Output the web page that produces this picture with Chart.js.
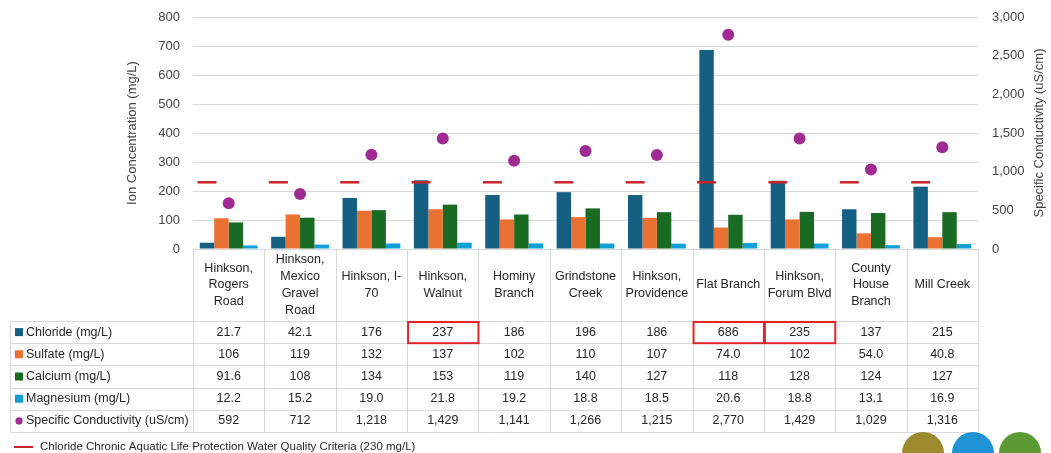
<!DOCTYPE html>
<html>
<head>
<meta charset="utf-8">
<title>Ion concentration by site</title>
<script src="https://cdn.jsdelivr.net/npm/chart.js@4.4.0/dist/chart.umd.min.js"></script>
<style>
  html, body { margin: 0; padding: 0; background: #fff; overflow: hidden; }
  #wrap { position: relative; width: 1051px; height: 453px; overflow: hidden; }
  .logo { position: absolute; top: 432px; width: 42px; height: 42px; border-radius: 50%; }
</style>
</head>
<body>
<div id="wrap">
  <canvas id="ionChart" width="1051" height="453"></canvas>
  <!-- logos bas de page -->
  <div class="logo" style="left:902px;background:#9c8a2e"></div>
  <div class="logo" style="left:952px;background:#1f93d3"></div>
  <div class="logo" style="left:999px;background:#5c9b34"></div>
</div>
<script>
// data
const sites = [
  ['Hinkson,', 'Rogers', 'Road'],
  ['Hinkson,', 'Mexico', 'Gravel', 'Road'],
  ['Hinkson, I-', '70'],
  ['Hinkson,', 'Walnut'],
  ['Hominy', 'Branch'],
  ['Grindstone', 'Creek'],
  ['Hinkson,', 'Providence'],
  ['Flat Branch'],
  ['Hinkson,', 'Forum Blvd'],
  ['County', 'House', 'Branch'],
  ['Mill Creek']
];
const chloride     = [21.7, 42.1, 176, 237, 186, 196, 186, 686, 235, 137, 215];
const sulfate      = [106, 119, 132, 137, 102, 110, 107, 74.0, 102, 54.0, 40.8];
const calcium      = [91.6, 108, 134, 153, 119, 140, 127, 118, 128, 124, 127];
const magnesium    = [12.2, 15.2, 19.0, 21.8, 19.2, 18.8, 18.5, 20.6, 18.8, 13.1, 16.9];
const conductivity = [592, 712, 1218, 1429, 1141, 1266, 1215, 2770, 1429, 1029, 1316];
const chlorideCriteria = [230, 230, 230, 230, 230, 230, 230, 230, 230, 230, 230];

const ionTicks = [0, 100, 200, 300, 400, 500, 600, 700, 800];
const condTicks = [0, 500, 1000, 1500, 2000, 2500, 3000];

const FONT = "'Liberation Sans', Arial, sans-serif";
const GRID = '#d9d9d9';
const TXT = '#454545';
const CELL_TXT = '#262626';
const RED = '#c8232c';

// lignes du tableau (nom, couleur, forme, valeurs)
const tableRows = [
  { name: 'Chloride (mg/L)', color: '#156082', shape: 'square', values: chloride },
  { name: 'Sulfate (mg/L)', color: '#e97132', shape: 'square', values: sulfate },
  { name: 'Calcium (mg/L)', color: '#196b24', shape: 'square', values: calcium },
  { name: 'Magnesium (mg/L)', color: '#0f9ed5', shape: 'square', values: magnesium },
  { name: 'Specific Conductivity (uS/cm)', color: '#a02b93', shape: 'circle', values: conductivity, thousands: true }
];

function fmt(v, thousands) {
  if (thousands) return v.toLocaleString('en-US');
  return Number(v).toPrecision(3);
}

// the criteria dash sits on the chloride bar, not on the category centre
const dashOnChloride = {
  id: 'dashOnChloride',
  afterDatasetsUpdate(chart) {
    const bars = chart.getDatasetMeta(0).data;
    const dash = chart.getDatasetMeta(5).data;
    dash.forEach((pt, i) => { if (bars[i]) pt.x = bars[i].x; });
  }
};

// tableau de données sous le graphique
const dataTable = {
  id: 'dataTable',
  afterDraw(chart) {
    const { ctx, chartArea } = chart;
    const xs = chart.scales.x;
    const n = sites.length;
    const colW = (chartArea.right - chartArea.left) / n;
    const top = chartArea.bottom;
    const headH = 72;
    const rowH = 22.2;
    const tableLeft = 10.5;
    const rowsTop = top + headH;
    const bottom = rowsTop + rowH * tableRows.length;

    ctx.save();
    ctx.strokeStyle = GRID;
    ctx.lineWidth = 1;
    ctx.beginPath();
    for (let i = 0; i <= n; i++) {
      const x = Math.round(chartArea.left + i * colW) + 0.5;
      ctx.moveTo(x, top);
      ctx.lineTo(x, bottom);
    }
    ctx.moveTo(tableLeft, rowsTop);
    ctx.lineTo(tableLeft, bottom);
    for (let r = 0; r <= tableRows.length; r++) {
      const y = Math.round(rowsTop + r * rowH) + 0.5;
      ctx.moveTo(tableLeft, y);
      ctx.lineTo(chartArea.right, y);
    }
    ctx.stroke();

    // en-têtes
    ctx.fillStyle = CELL_TXT;
    ctx.textAlign = 'center';
    ctx.textBaseline = 'middle';
    ctx.font = '12.5px ' + FONT;
    const lh = 16.8;
    sites.forEach((lines, i) => {
      const cx = xs.getPixelForValue(i);
      const y0 = top + headH / 2 - (lines.length - 1) * lh / 2;
      lines.forEach((t, k) => ctx.fillText(t, cx, y0 + k * lh));
    });

    // lignes de valeurs
    tableRows.forEach((row, r) => {
      const cy = rowsTop + r * rowH + rowH / 2;
      ctx.fillStyle = row.color;
      if (row.shape === 'square') {
        ctx.fillRect(15, cy - 4, 8, 8);
      } else {
        ctx.beginPath();
        ctx.arc(19, cy, 3.6, 0, Math.PI * 2);
        ctx.fill();
      }
      ctx.fillStyle = CELL_TXT;
      ctx.textAlign = 'left';
      ctx.font = '12.5px ' + FONT;
      ctx.fillText(row.name, 26, cy);
      ctx.textAlign = 'center';
      row.values.forEach((v, i) => {
        ctx.fillText(fmt(v, row.thousands), xs.getPixelForValue(i), cy);
      });
    });

    // cases rouges : chlorure au-dessus du critère
    ctx.strokeStyle = '#e0262b';
    ctx.lineWidth = 2;
    chloride.forEach((v, i) => {
      if (v > chlorideCriteria[i]) {
        const x = chartArea.left + i * colW;
        ctx.strokeRect(x + 1, rowsTop + 1, colW - 1, rowH - 1);
      }
    });

    // légende du critère
    ctx.strokeStyle = RED;
    ctx.lineWidth = 2;
    ctx.beginPath();
    ctx.moveTo(14, 447);
    ctx.lineTo(33, 447);
    ctx.stroke();
    ctx.fillStyle = CELL_TXT;
    ctx.textAlign = 'left';
    ctx.font = '11.5px ' + FONT;
    ctx.fillText('Chloride Chronic Aquatic Life Protection Water Quality Criteria (230 mg/L)', 40, 447);

    // titre de l'axe droit, lu de bas en haut
    ctx.save();
    ctx.translate(1039, (chartArea.top + chartArea.bottom) / 2);
    ctx.rotate(-Math.PI / 2);
    ctx.textAlign = 'center';
    ctx.fillStyle = TXT;
    ctx.font = '13px ' + FONT;
    ctx.fillText('Specific Conductivity (uS/cm)', 0, 0);
    ctx.restore();

    ctx.restore();
  }
};

const ctx = document.getElementById('ionChart').getContext('2d');
new Chart(ctx, {
  type: 'bar',
  data: {
    labels: sites,
    datasets: [
      { label: 'Chloride (mg/L)', data: chloride, backgroundColor: '#156082', yAxisID: 'y', order: 2 },
      { label: 'Sulfate (mg/L)', data: sulfate, backgroundColor: '#e97132', yAxisID: 'y', order: 2 },
      { label: 'Calcium (mg/L)', data: calcium, backgroundColor: '#196b24', yAxisID: 'y', order: 2 },
      { label: 'Magnesium (mg/L)', data: magnesium, backgroundColor: '#0f9ed5', yAxisID: 'y', order: 2 },
      {
        type: 'line', label: 'Specific Conductivity (uS/cm)', data: conductivity, yAxisID: 'y1',
        showLine: false, pointRadius: 6, pointBackgroundColor: '#a02b93', pointBorderWidth: 0, order: 0
      },
      {
        type: 'line', label: 'Chloride Chronic Aquatic Life Protection Water Quality Criteria (230 mg/L)',
        data: chlorideCriteria, yAxisID: 'y', showLine: false,
        pointStyle: 'line', pointRadius: 9.5, pointBorderWidth: 2.5, pointBorderColor: RED, order: 1
      }
    ]
  },
  options: {
    responsive: false,
    animation: false,
    events: [],
    datasets: { bar: { categoryPercentage: 0.81, barPercentage: 1.0 } },
    layout: { padding: { left: 121, right: 0, top: 17, bottom: 204 } },
    plugins: { legend: { display: false }, tooltip: { enabled: false } },
    scales: {
      x: { display: false },
      y: {
        position: 'left', min: 0, max: 800,
        afterBuildTicks: s => { s.ticks = ionTicks.map(v => ({ value: v })); },
        afterFit: s => { s.width = 72; },
        ticks: { color: TXT, font: { family: FONT, size: 13 }, padding: 0 },
        // tick marks kept invisible, only used as label spacing
        grid: { color: GRID, drawTicks: true, tickLength: 13, tickColor: 'rgba(0,0,0,0)' },
        border: { display: false },
        title: { display: true, text: 'Ion Concentration (mg/L)', color: TXT, font: { family: FONT, size: 13 } }
      },
      y1: {
        position: 'right', min: 0, max: 3000,
        afterBuildTicks: s => { s.ticks = condTicks.map(v => ({ value: v })); },
        afterFit: s => { s.width = 73; },
        ticks: { color: TXT, font: { family: FONT, size: 13 }, padding: 0 },
        grid: { drawOnChartArea: false, drawTicks: true, tickLength: 14, tickColor: 'rgba(0,0,0,0)' },
        border: { display: false }
      }
    }
  },
  plugins: [dashOnChloride, dataTable]
});
</script>
</body>
</html>
